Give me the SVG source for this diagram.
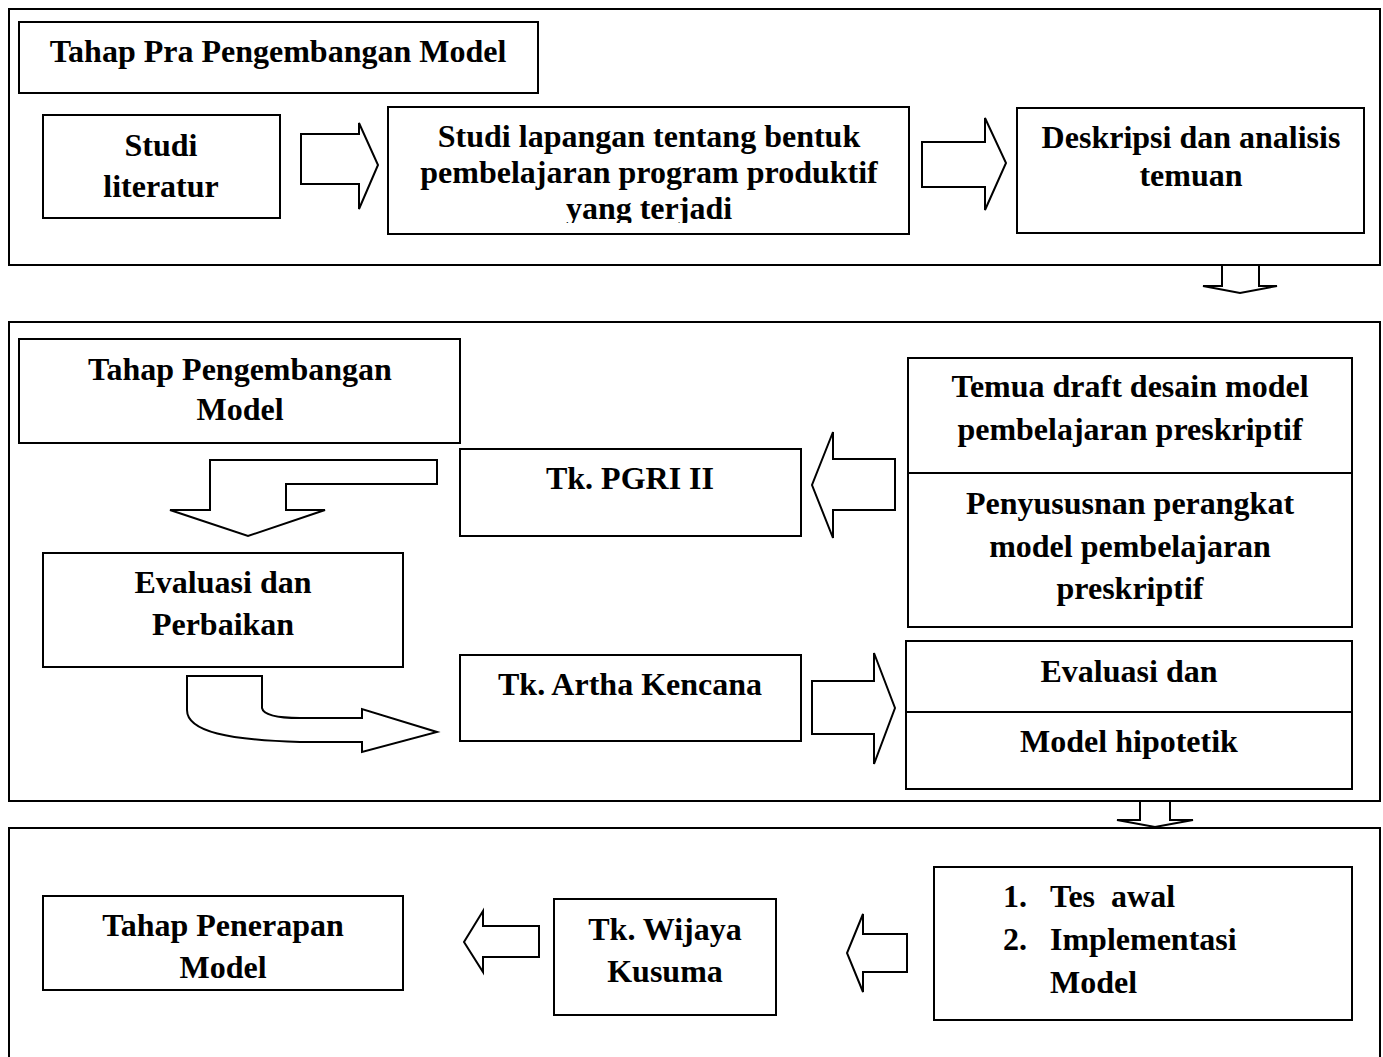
<svg xmlns="http://www.w3.org/2000/svg" width="1383" height="1057" viewBox="0 0 1383 1057">
<style>
.sec{fill:none;stroke:#000;stroke-width:2}
.box{fill:#fff;stroke:#000;stroke-width:2}
.arr{fill:#fff;stroke:#000;stroke-width:2;stroke-linejoin:miter}
text{font-family:"Liberation Serif","Times New Roman",serif;font-weight:bold;font-size:32px;fill:#000}
.c{text-anchor:middle}
.pre{white-space:pre}
</style>
<defs>
<clipPath id="clipLap"><rect x="388" y="107" width="521" height="116"/></clipPath>
</defs>
<rect width="1383" height="1057" fill="#fff"/>
<g id="sections">
<rect class="sec" x="9" y="9" width="1371" height="256"/>
<rect class="sec" x="9" y="322" width="1371" height="479"/>
<rect class="sec" x="9" y="828" width="1371" height="240"/>
</g>
<g id="connectors">
<path class="arr" d="M301,134 L359,134 L359,123 L378,165 L359,209 L359,184 L301,184 Z"/>
<path class="arr" d="M922,142 L985,142 L985,118 L1006,163 L985,210 L985,187 L922,187 Z"/>
<path class="arr" d="M1222,265 L1259,265 L1259,286 L1277,286 L1240,293 L1203,286 L1222,286 Z"/>
<path class="arr" d="M437,460 L210,460 L210,510 L170,510 L248,536 L325,510 L286,510 L286,484 L437,484 Z"/>
<path class="arr" d="M895,459 L833,459 L833,432 L812,485 L833,538 L833,510 L895,510 Z"/>
<path class="arr" d="M187,676 L262,676 L262,708 Q264,718 300,718 L362,718 L362,709 L437,732 L362,752 L362,742 L300,742 C230,740 187,732 187,710 Z"/>
<path class="arr" d="M812,681 L874,681 L874,653 L895,708 L874,764 L874,734 L812,734 Z"/>
<path class="arr" d="M1140,801 L1170,801 L1170,820 L1193,820 L1155,827 L1117,820 L1140,820 Z"/>
<path class="arr" d="M539,926 L483,926 L483,911 L464,942 L483,972 L483,957 L539,957 Z"/>
<path class="arr" d="M907,934 L863,934 L863,914 L847,953 L863,992 L863,972 L907,972 Z"/>
</g>
<g id="n-pra">
<rect class="box" x="19" y="22" width="519" height="71"/>
<text class="c" x="278" y="62">Tahap Pra Pengembangan Model</text>
</g>
<g id="n-studi">
<rect class="box" x="43" y="115" width="237" height="103"/>
<text class="c" x="161" y="156">Studi</text>
<text class="c" x="161" y="197">literatur</text>
</g>
<g id="n-lapangan">
<rect class="box" x="388" y="107" width="521" height="127"/>
<g clip-path="url(#clipLap)">
<text class="c" x="649" y="147">Studi lapangan tentang bentuk</text>
<text class="c" x="649" y="183">pembelajaran program produktif</text>
<text class="c" x="649" y="219">yang terjadi</text>
</g>
</g>
<g id="n-deskripsi">
<rect class="box" x="1017" y="108" width="347" height="125"/>
<text class="c" x="1191" y="148">Deskripsi dan analisis</text>
<text class="c" x="1191" y="186">temuan</text>
</g>
<g id="n-pengembangan">
<rect class="box" x="19" y="339" width="441" height="104"/>
<text class="c" x="240" y="380">Tahap Pengembangan</text>
<text class="c" x="240" y="420">Model</text>
</g>
<g id="n-pgri">
<rect class="box" x="460" y="449" width="341" height="87"/>
<text class="c" x="630" y="489">Tk. PGRI II</text>
</g>
<g id="n-draft">
<rect class="box" x="908" y="358" width="444" height="269"/>
<line x1="908" y1="473" x2="1352" y2="473" stroke="#000" stroke-width="2"/>
<text class="c" x="1130" y="397">Temua draft desain model</text>
<text class="c" x="1130" y="440">pembelajaran preskriptif</text>
<text class="c" x="1130" y="514">Penyususnan perangkat</text>
<text class="c" x="1130" y="557">model pembelajaran</text>
<text class="c" x="1130" y="599">preskriptif</text>
</g>
<g id="n-evaluasi">
<rect class="box" x="43" y="553" width="360" height="114"/>
<text class="c" x="223" y="593">Evaluasi dan</text>
<text class="c" x="223" y="635">Perbaikan</text>
</g>
<g id="n-artha">
<rect class="box" x="460" y="655" width="341" height="86"/>
<text class="c" x="630" y="695">Tk. Artha Kencana</text>
</g>
<g id="n-hipotetik">
<rect class="box" x="906" y="641" width="446" height="148"/>
<line x1="906" y1="712" x2="1352" y2="712" stroke="#000" stroke-width="2"/>
<text class="c" x="1129" y="682">Evaluasi dan</text>
<text class="c" x="1129" y="752">Model hipotetik</text>
</g>
<g id="n-penerapan">
<rect class="box" x="43" y="896" width="360" height="94"/>
<text class="c" x="223" y="936">Tahap Penerapan</text>
<text class="c" x="223" y="978">Model</text>
</g>
<g id="n-wijaya">
<rect class="box" x="554" y="899" width="222" height="116"/>
<text class="c" x="665" y="940">Tk. Wijaya</text>
<text class="c" x="665" y="982">Kusuma</text>
</g>
<g id="n-tes">
<rect class="box" x="934" y="867" width="418" height="153"/>
<text x="1003" y="907">1.</text>
<text class="pre" x="1050" y="907">Tes  awal</text>
<text x="1003" y="950">2.</text>
<text x="1050" y="950">Implementasi</text>
<text x="1050" y="993">Model</text>
</g>
</svg>
